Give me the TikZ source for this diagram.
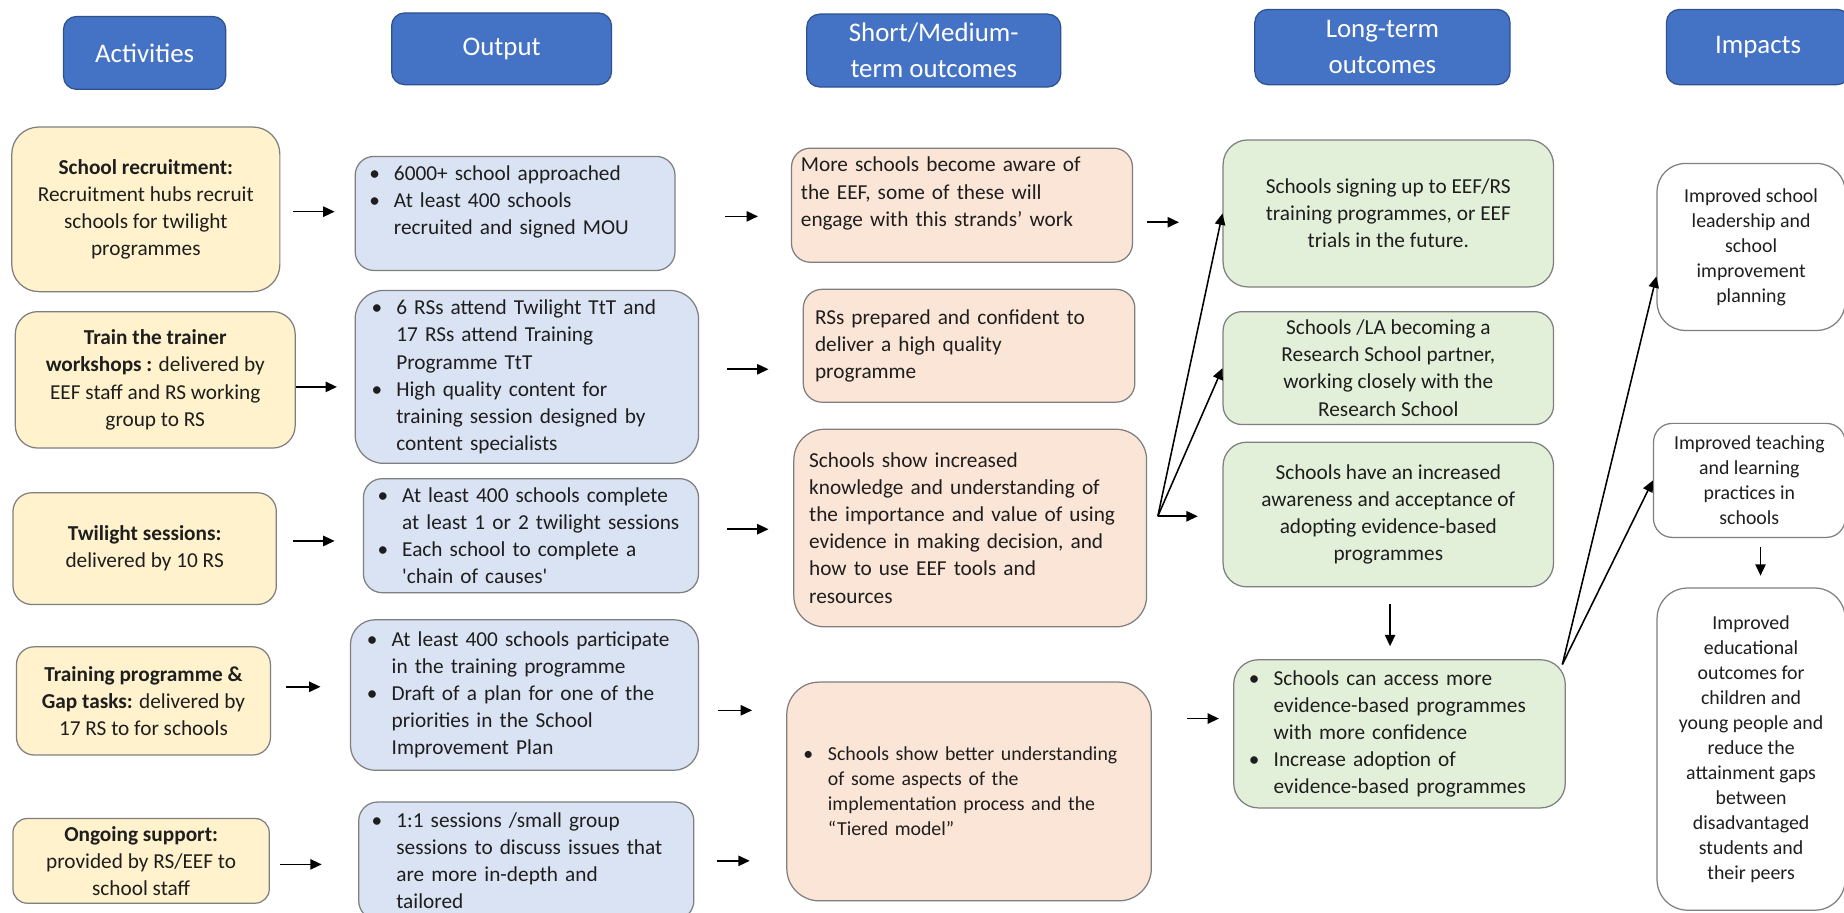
\documentclass[tikz,border=0pt]{standalone}
\usepackage{fontspec}
\setmainfont{Carlito}
\usetikzlibrary{arrows.meta}

\definecolor{headblue}{HTML}{4472C4}
\definecolor{headline}{HTML}{2F528F}
\definecolor{actfill}{HTML}{FFF2CC}
\definecolor{outfill}{HTML}{DAE3F3}
\definecolor{midfill}{HTML}{FBE5D6}
\definecolor{longfill}{HTML}{E2F0D9}
\definecolor{boxline}{HTML}{7F7F7F}
\definecolor{txt}{HTML}{1E1E1E}

\hyphenpenalty=10000
\exhyphenpenalty=10000

\newcommand{\bul}{\makebox[0.42cm][l]{\textbullet}}
\newcommand{\ind}{\hspace*{0.42cm}}

\begin{document}
\begin{tikzpicture}[x=0.02cm, y=-0.02cm,
  box/.style={draw=boxline, line width=0.6pt, rounded corners=0.32cm, inner sep=0pt, text=txt,
    font=\fontsize{10.3}{13.1}\selectfont},
  headbox/.style={draw=headline, fill=headblue, line width=0.6pt, rounded corners=0.22cm,
    inner sep=0pt, text=white, align=center, font=\fontsize{13}{17.3}\selectfont},
  actbox/.style={box, fill=actfill, align=center},
  outbox/.style={box, fill=outfill, align=left},
  midbox/.style={box, fill=midfill, align=left},
  longbox/.style={box, fill=longfill, align=center},
  impbox/.style={box, fill=white, align=center, font=\fontsize{9.6}{12.1}\selectfont},
  arr/.style={-{Triangle[length=5.5pt,width=5pt]}, line width=0.75pt}]

  \path[use as bounding box, fill=white] (0,0) rectangle (1568,776);

  % column heads
  \node[headbox, minimum width=2.76cm, minimum height=1.24cm] (h1) at (123,45) {Activities};
  \node[headbox, minimum width=3.74cm, minimum height=1.22cm] (h2) at (426.5,41.5) {Output};
  \node[headbox, minimum width=4.32cm, minimum height=1.24cm] (h3) at (794,43) {Short/Medium-\\term outcomes};
  \node[headbox, minimum width=4.34cm, minimum height=1.28cm] (h4) at (1175.5,40) {Long-term\\outcomes};
  \node[headbox, minimum width=3.12cm, minimum height=1.28cm] (h5) at (1495,40) {Impacts};

  % activities
  \node[actbox, rounded corners=0.46cm, minimum width=4.56cm, minimum height=2.8cm] (a1) at (124,178)
    {\textbf{School recruitment:}\\Recruitment hubs recruit\\schools for twilight\\programmes};
  \node[actbox, rounded corners=0.38cm, minimum width=4.76cm, minimum height=2.32cm] (a2) at (132,323)
    {\textbf{Train the trainer}\\\textbf{workshops :} delivered by\\EEF staff and RS working\\group to RS};
  \node[actbox, minimum width=4.48cm, minimum height=1.9cm] (a3) at (123,466.5)
    {\textbf{Twilight sessions:}\\delivered by 10 RS};
  \node[actbox, rounded corners=0.3cm, minimum width=4.32cm, minimum height=1.84cm] (a4) at (122,596)
    {\textbf{Training programme \&}\\\textbf{Gap tasks:} delivered by\\17 RS to for schools};
  \node[actbox, rounded corners=0.24cm, minimum width=4.36cm, minimum height=1.44cm] (a5) at (120,732)
    {\textbf{Ongoing support:}\\provided by RS/EEF to\\school staff};

  % outputs
  \node[outbox, text width=4.96cm, minimum width=5.44cm, minimum height=1.94cm] (o1) at (438,181.5)
    {\bul 6000+ school approached\\\bul At least 400 schools\\\ind recruited and signed MOU\\\mbox{}};
  \node[outbox, rounded corners=0.48cm, text width=5.28cm, minimum width=5.84cm, minimum height=2.94cm] (o2) at (448,320.5)
    {\bul 6 RSs attend Twilight TtT and\\\ind 17 RSs attend Training\\\ind Programme TtT\\
     \bul High quality content for\\\ind training session designed by\\\ind content specialists};
  \node[outbox, text width=5.22cm, minimum width=5.7cm, minimum height=1.94cm] (o3) at (451.5,455.5)
    {\bul At least 400 schools complete\\\ind at least 1 or 2 twilight sessions\\
     \bul Each school to complete a\\\ind \textquotesingle chain of causes\textquotesingle};
  \node[outbox, rounded corners=0.42cm, text width=5.36cm, minimum width=5.92cm, minimum height=2.56cm] (o4) at (446,591)
    {\bul At least 400 schools participate\\\ind in the training programme\\
     \bul Draft of a plan for one of the\\\ind priorities in the School\\\ind Improvement Plan};
  \node[outbox, text width=5.26cm, minimum width=5.7cm, minimum height=2cm] (o5) at (447.5,732)
    {\bul 1:1 sessions /small group\\\ind sessions to discuss issues that\\\ind are more in-depth and\\\ind tailored};

  % short / medium-term outcomes
  \node[midbox, text width=5.48cm, minimum width=5.8cm, minimum height=1.94cm] (s1) at (818,174.5)
    {More schools become aware of\\the EEF, some of these will\\engage with this strands' work\\\mbox{}};
  \node[midbox, text width=5.24cm, minimum width=5.64cm, minimum height=1.92cm] (s2) at (824,294)
    {RSs prepared and confident to\\deliver a high quality\\programme};
  \node[midbox, rounded corners=0.52cm, text width=5.48cm, minimum width=6cm, minimum height=3.36cm] (s3) at (825,449)
    {Schools show increased\\knowledge and understanding of\\the importance and value of using\\
     evidence in making decision, and\\how to use EEF tools and\\resources};
  \node[midbox, rounded corners=0.55cm, text width=5.64cm, minimum width=6.2cm, minimum height=3.72cm,
    font=\fontsize{9.6}{12.1}\selectfont] (s4) at (824,673)
    {\bul Schools show better understanding\\\ind of some aspects of the\\
     \ind implementation process and the\\\ind ``Tiered model''};

  % long-term outcomes
  \node[longbox, rounded corners=0.42cm, minimum width=5.62cm, minimum height=2.5cm] (l1) at (1180.5,181.5)
    {Schools signing up to EEF/RS\\training programmes, or EEF\\trials in the future.};
  \node[longbox, minimum width=5.62cm, minimum height=1.92cm] (l2) at (1180.5,313)
    {Schools /LA becoming a\\Research School partner,\\working closely with the\\Research School};
  \node[longbox, rounded corners=0.4cm, minimum width=5.62cm, minimum height=2.46cm] (l3) at (1180.5,437.5)
    {Schools have an increased\\awareness and acceptance of\\adopting evidence-based\\programmes};
  \node[longbox, rounded corners=0.42cm, align=left, text width=5.12cm, minimum width=5.64cm, minimum height=2.52cm] (l4) at (1190,624)
    {\bul Schools can access more\\\ind evidence-based programmes\\\ind with more confidence\\
     \bul Increase adoption of\\\ind evidence-based programmes};

  % impacts
  \node[impbox, rounded corners=0.48cm, minimum width=3.2cm, minimum height=2.84cm] (i1) at (1489,210)
    {Improved school\\leadership and\\school\\improvement\\planning};
  \node[impbox, minimum width=3.26cm, minimum height=1.94cm] (i2) at (1487.5,408.5)
    {Improved teaching\\and learning\\practices in\\schools};
  \node[impbox, rounded corners=0.52cm, minimum width=3.2cm, minimum height=5.48cm] (i3) at (1489,637)
    {Improved\\educational\\outcomes for\\children and\\young people and\\reduce the\\attainment gaps\\
     between\\disadvantaged\\students and\\their peers};

  % straight arrows between columns
  \foreach \f/\t/\dy/\ga/\gb in {a1/o1/-0.04/0.22/0.34, a2/o2/-0.12/0/0.30, a3/o3/0.13/0.28/0.48,
      a4/o4/0.24/0.26/0.50, a5/o5/-0.06/0.18/0.62, o1/s1/-0.05/0.84/0.56, o2/s2/0.13/0.48/0.58,
      o3/s3/0.11/0.48/0.42, o4/s4/-0.26/0.32/0.58, o5/s4/0/0.38/0.62, s1/l1/-0.29/0.24/0.74,
      s4/l4/1.24/0.60/0.24}
    \draw[arr, shorten <=\ga cm, shorten >=\gb cm] ([yshift=\dy cm]\f.east) -- ([yshift=\dy cm]\f.east -| \t.west);

  % fan out of s3
  \coordinate (fan) at ([xshift=0.18cm, yshift=0.2cm]s3.east);
  \draw[arr] (fan) -- (l1.west);
  \draw[arr] (fan) -- (l2.west);
  \draw[arr, shorten >=0.42cm] (fan) -- (fan -| l3.west);

  \draw[arr, shorten <=0.28cm, shorten >=0.22cm] ([xshift=0.03cm]l3.south) -- ([xshift=0.03cm]l3.south |- l4.north);

  % fan out of l4
  \coordinate (imp) at ([xshift=-0.06cm, yshift=-0.09cm]l4.north east);
  \draw[arr] (imp) -- ([yshift=-0.5cm]i1.west);
  \draw[arr] (imp) -- (i2.west);

  \draw[arr, shorten <=0.16cm, shorten >=0.2cm] ([xshift=0.19cm]i2.south) -- ([xshift=0.19cm]i2.south |- i3.north);

\end{tikzpicture}
\end{document}
